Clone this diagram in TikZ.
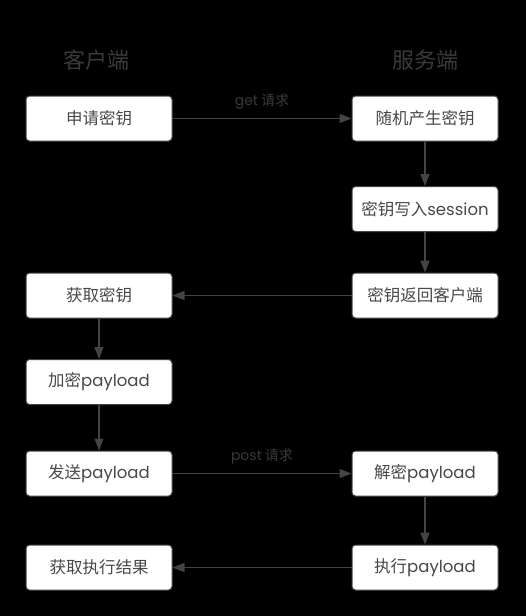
\documentclass[tikz,border=0pt]{standalone}
\usepackage{fontspec}
\setmainfont{Noto Sans CJK SC}
\newfontfamily\lat{Poppins}
\usetikzlibrary{arrows.meta}
\definecolor{boxtext}{HTML}{484848}
\definecolor{linec}{HTML}{444444}
\definecolor{titlec}{HTML}{3A3A3A}
\begin{document}
\begin{tikzpicture}[x=1pt,y=-1pt,
  stepbox/.style={draw=linec,fill=white,rounded corners=3.5pt,line width=1pt,
    minimum width=146pt,minimum height=45pt,inner sep=0pt,text=boxtext,
    font=\fontsize{16.5}{18}\selectfont},
  titletext/.style={text=titlec,font=\fontsize{22}{24}\selectfont},
  lbl/.style={text=titlec,font=\fontsize{14}{16}\selectfont},
  conn/.style={draw=linec,line width=1.3pt,-{Triangle[length=12pt,width=9pt]}}]
\fill[black] (0,0) rectangle (526,616);
\useasboundingbox (0,0) rectangle (526,616);
\node[titletext] (tc) at (96,60) {客户端};
\node[titletext] (ts) at (425,60) {服务端};
\node[stepbox] (a1) at (99,118.5) {申请密钥};
\node[stepbox] (b1) at (425,118.5) {随机产生密钥};
\node[stepbox] (b2) at (425,209) {密钥写入{\lat session}};
\node[stepbox] (b3) at (425,295.5) {密钥返回客户端};
\node[stepbox] (a2) at (99,295.5) {获取密钥};
\node[stepbox] (a3) at (99,382) {加密{\lat payload}};
\node[stepbox] (a4) at (99,473.5) {发送{\lat payload}};
\node[stepbox] (b4) at (425,473.5) {解密{\lat payload}};
\node[stepbox] (b5) at (425,567.5) {执行{\lat payload}};
\node[stepbox] (a5) at (99,567.5) {获取执行结果};
\draw[conn] (a1) -- node[lbl,above=5pt] {{\lat get} 请求} (b1);
\draw[conn] (b1) -- (b2);
\draw[conn] (b2) -- (b3);
\draw[conn] (b3) -- (a2);
\draw[conn] (a2) -- (a3);
\draw[conn] (a3) -- (a4);
\draw[conn] (a4) -- node[lbl,above=5pt] {{\lat post} 请求} (b4);
\draw[conn] (b4) -- (b5);
\draw[conn] (b5) -- (a5);
\end{tikzpicture}
\end{document}
